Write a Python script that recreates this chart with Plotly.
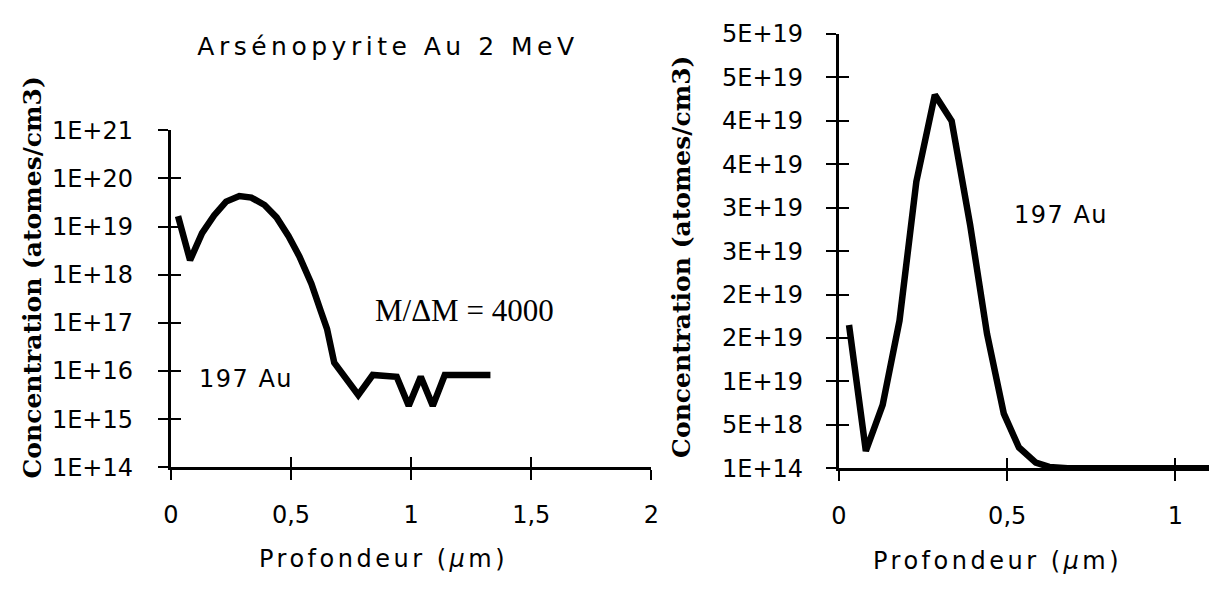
import plotly.graph_objects as go

# ---------------- data ----------------
depth_um = [0.03, 0.08, 0.13, 0.18, 0.23, 0.285, 0.335, 0.39, 0.44, 0.49,
            0.535, 0.585, 0.625, 0.65, 0.68, 0.73, 0.78, 0.84, 0.89, 0.94,
            0.99, 1.04, 1.09, 1.14, 1.19, 1.24, 1.29, 1.33]
conc_au197 = [1.65e19, 2.0e18, 7.3e18, 1.7e19, 3.3e19, 4.3e19, 4.0e19, 2.8e19, 1.55e19, 6.3e18,
              2.4e18, 6.5e17, 1.7e17, 7.5e16, 1.5e16, 6.5e15, 3.2e15, 8.3e15, 7.8e15, 7.6e15,
              1.9e15, 7.6e15, 1.9e15, 8.3e15, 8.3e15, 8.3e15, 8.3e15, 8.3e15]

log_tickvals = [1e14, 1e15, 1e16, 1e17, 1e18, 1e19, 1e20, 1e21]
log_ticktext = ["1E+14", "1E+15", "1E+16", "1E+17", "1E+18", "1E+19", "1E+20", "1E+21"]

lin_tickvals = [1e14, 5.0001e18, 1.00001e19, 1.50001e19, 2.00001e19, 2.50001e19,
                3.00001e19, 3.50001e19, 4.00001e19, 4.50001e19, 5.00001e19]
lin_ticktext = ["1E+14", "5E+18", "1E+19", "2E+19", "2E+19", "3E+19",
                "3E+19", "4E+19", "4E+19", "5E+19", "5E+19"]

x_left_tickvals = [0, 0.5, 1, 1.5, 2]
x_left_ticktext = ["0", "0,5", "1", "1,5", "2"]
x_right_tickvals = [0, 0.5, 1]
x_right_ticktext = ["0", "0,5", "1"]

# ---------------- layout helpers ----------------
W, H = 1217, 590


def px(x):
    return x / W


def py(y):
    return 1 - y / H


SANS = "DejaVu Sans"
SERIF = "Liberation Serif"
BOLD_SERIF = "DejaVu Serif"
tick_font = dict(family=SANS, size=24, color="black")

fig = go.Figure()
line_style = dict(color="black", width=6.5)
fig.add_trace(go.Scatter(x=depth_um, y=conc_au197, mode="lines", line=line_style,
                         xaxis="x", yaxis="y", showlegend=False, hoverinfo="skip"))
fig.add_trace(go.Scatter(x=depth_um, y=conc_au197, mode="lines", line=line_style,
                         xaxis="x2", yaxis="y2", showlegend=False, hoverinfo="skip"))

axis_common = dict(showgrid=False, zeroline=False, showline=True, linecolor="black",
                   linewidth=3, ticks="outside", ticklen=10, tickwidth=2, tickcolor="black",
                   tickfont=tick_font, mirror=False)
inner_common = dict(showgrid=False, zeroline=False, showline=False, ticks="inside",
                    ticklen=10, tickwidth=2, tickcolor="black", showticklabels=False)

left_xdom = [px(165), px(652)]
left_ydom = [py(476), py(122)]
right_xdom = [px(842), 1.0]
right_ydom = [py(477), py(21)]
right_xmax = (W - 842) / 341.0

fig.update_layout(
    width=W, height=H,
    margin=dict(l=0, r=0, t=0, b=0),
    paper_bgcolor="white", plot_bgcolor="white",
    title=dict(text='<span style="letter-spacing:4.5px">Arsénopyrite Au 2 MeV</span>',
               x=px(385), y=py(34), xref="paper", yref="paper",
               xanchor="center", yanchor="middle",
               font=dict(family=SANS, size=25, color="black")),
    xaxis=dict(axis_common, domain=left_xdom, anchor="y", range=[0, 2],
               tickvals=x_left_tickvals, ticktext=x_left_ticktext, ticklabelstandoff=14),
    yaxis=dict(axis_common, domain=left_ydom, anchor="x", type="log", range=[14, 21],
               tickvals=log_tickvals, ticktext=log_ticktext, ticklabelstandoff=20),
    xaxis2=dict(axis_common, domain=right_xdom, anchor="y2", range=[0, right_xmax],
                tickvals=x_right_tickvals, ticktext=x_right_ticktext, ticklabelstandoff=14),
    yaxis2=dict(axis_common, domain=right_ydom, anchor="x2", range=[1e14, 5.0001e19],
                tickvals=lin_tickvals, ticktext=lin_ticktext, ticklabelstandoff=18),
    # inner halves of the cross-style ticks
    xaxis3=dict(inner_common, overlaying="x", anchor="y", range=[0, 2], tickvals=x_left_tickvals),
    yaxis3=dict(inner_common, overlaying="y", anchor="x", type="log", range=[14, 21],
                tickvals=log_tickvals),
    xaxis4=dict(inner_common, overlaying="x2", anchor="y2", range=[0, right_xmax],
                tickvals=x_right_tickvals),
    yaxis4=dict(inner_common, overlaying="y2", anchor="x2", range=[1e14, 5.0001e19],
                tickvals=lin_tickvals),
)

# invisible placeholder traces so the overlay (inner-tick) axes are drawn
fig.add_trace(go.Scatter(x=[None], y=[None], xaxis="x3", yaxis="y3", showlegend=False))
fig.add_trace(go.Scatter(x=[None], y=[None], xaxis="x4", yaxis="y4", showlegend=False))

ytitle = "Concentration (atomes/cm3)"
xtitle = '<span style="letter-spacing:3.5px">Profondeur (<i>µ</i>m)</span>'
annots = [
    dict(text=ytitle, x=px(25), y=py(277), textangle=-90,
         font=dict(family=BOLD_SERIF, size=25, color="black", weight="bold")),
    dict(text=ytitle, x=px(683), y=py(255), textangle=-90,
         font=dict(family=BOLD_SERIF, size=25, color="black", weight="bold")),
    dict(text=xtitle, x=px(380), y=py(572), font=dict(family=SANS, size=24, color="black")),
    dict(text=xtitle, x=px(1003), y=py(574), font=dict(family=SANS, size=24, color="black")),
    dict(text="M/ΔM = 4000", x=px(463), y=py(311), font=dict(family=SERIF, size=31, color="black")),
    dict(text='<span style="letter-spacing:1.5px">197 Au</span>', x=px(241), y=py(383),
         font=dict(family=SANS, size=24, color="black")),
    dict(text='<span style="letter-spacing:1.5px">197 Au</span>', x=px(1067), y=py(211),
         font=dict(family=SANS, size=24, color="black")),
]
for a in annots:
    fig.add_annotation(xref="paper", yref="paper", xanchor="center", yanchor="middle",
                       showarrow=False, **a)

fig.write_html("out.html", config={"displayModeBar": False},
               post_script="document.body.style.margin='0px';document.body.style.overflow='hidden';")
